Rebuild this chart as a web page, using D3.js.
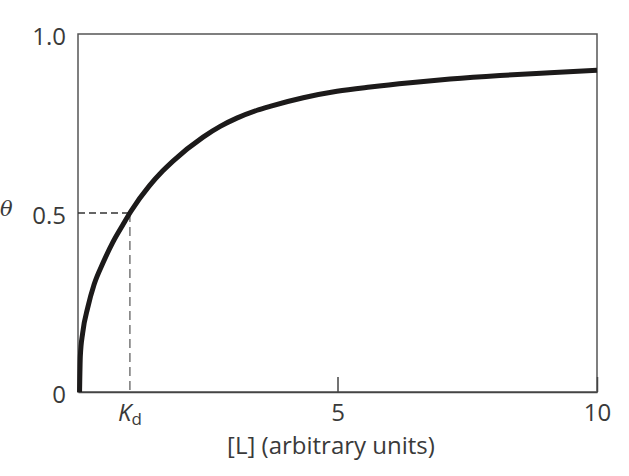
<!DOCTYPE html>
<html><head><meta charset="utf-8">
<script src="https://cdn.jsdelivr.net/npm/d3@7"></script>
<style>body{margin:0;background:#fff}</style>
</head><body>
<svg id="c" width="629" height="476"></svg>
<script>
// Binding curve values
const ligand = [0.03, 0.045, 0.09, 0.19, 0.31, 0.48, 0.67, 0.86, 1.02, 1.37, 1.63, 1.83, 2.41, 2.74, 3.06, 3.45, 3.70, 4.34, 4.99, 5.63, 6.40, 7.17, 8.13, 9.09, 10.0];
const theta  = [0.00, 0.100, 0.165, 0.237, 0.300, 0.360, 0.418, 0.466, 0.505, 0.575, 0.617, 0.645, 0.712, 0.742, 0.765, 0.787, 0.798, 0.822, 0.840, 0.852, 0.864, 0.874, 0.884, 0.892, 0.899];
const xTicks = [5, 10];
const yTicks = [0, 0.5, 1.0];
const kd = 1.0;
const kdTheta = 0.5;

const W = 629, H = 476;
const m = {l: 78, t: 34, r: 32, b: 84};
const svg = d3.select("#c");
const x = d3.scaleLinear().domain([0, 10]).range([m.l, W - m.r]);
const y = d3.scaleLinear().domain([0, 1]).range([H - m.b, m.t]);
const font = "'Open Sans', 'Noto Sans', sans-serif";
const txt = "#3a3a3a";
const fs = 24;

// frame
svg.append("rect").attr("x", x(0)).attr("y", y(1))
  .attr("width", x(10) - x(0)).attr("height", y(0) - y(1))
  .attr("fill", "none").attr("stroke", "#555").attr("stroke-width", 1.5);

// dashed guides
svg.append("line").attr("x1", x(0)).attr("x2", x(kd)).attr("y1", y(kdTheta)).attr("y2", y(kdTheta))
  .attr("stroke", "#333").attr("stroke-width", 1.5).attr("stroke-dasharray", "7,4");
svg.append("line").attr("x1", x(kd)).attr("x2", x(kd)).attr("y1", y(kdTheta)).attr("y2", y(0))
  .attr("stroke", "#777").attr("stroke-width", 1.5).attr("stroke-dasharray", "9,5");

// x axis
const gx = svg.append("g").attr("transform", `translate(0,${y(0)})`)
  .call(d3.axisBottom(x).tickValues(xTicks).tickSizeInner(-15).tickSizeOuter(0).tickPadding(12).tickFormat(d3.format("d")));
gx.select(".domain").attr("stroke", "#444").attr("stroke-width", 1.5);
gx.selectAll(".tick line").attr("stroke", "#444").attr("stroke-width", 1.5);
gx.selectAll(".tick text").attr("font-family", font).attr("font-size", fs).attr("fill", txt);

// Kd label
const kt = svg.append("text").attr("x", x(kd)).attr("y", y(0) + 29).attr("text-anchor", "middle")
  .attr("font-family", font).attr("font-size", fs).attr("fill", txt);
kt.append("tspan").attr("font-style", "italic").text("K");
kt.append("tspan").attr("font-size", 17).attr("dy", 4).text("d");

// y axis
const gy = svg.append("g").attr("transform", `translate(${x(0)},0)`)
  .call(d3.axisLeft(y).tickValues(yTicks).tickSize(0).tickPadding(12).tickFormat(d => d === 0 ? "0" : d3.format(".1f")(d)));
gy.select(".domain").remove();
gy.selectAll(".tick text").attr("font-family", font).attr("font-size", fs).attr("fill", txt).attr("dy", "0.42em");

// theta label
svg.append("text").attr("x", 0).attr("y", y(kdTheta) - 4).attr("dy", "0.35em")
  .attr("font-family", "'DejaVu Serif', serif").attr("font-style", "italic").attr("font-size", 21)
  .attr("fill", txt).text("θ");

// x title
svg.append("text").attr("x", 331).attr("y", 454).attr("text-anchor", "middle")
  .attr("font-family", font).attr("font-size", fs).attr("fill", txt).text("[L] (arbitrary units)");

// curve
const pts = ligand.map((v, i) => [v, theta[i]]);
svg.append("path").datum(pts)
  .attr("d", d3.line().x(d => x(d[0])).y(d => y(d[1])).curve(d3.curveMonotoneX))
  .attr("fill", "none").attr("stroke", "#1c1a1a").attr("stroke-width", 5).attr("stroke-linecap", "butt");
</script>
</body></html>
